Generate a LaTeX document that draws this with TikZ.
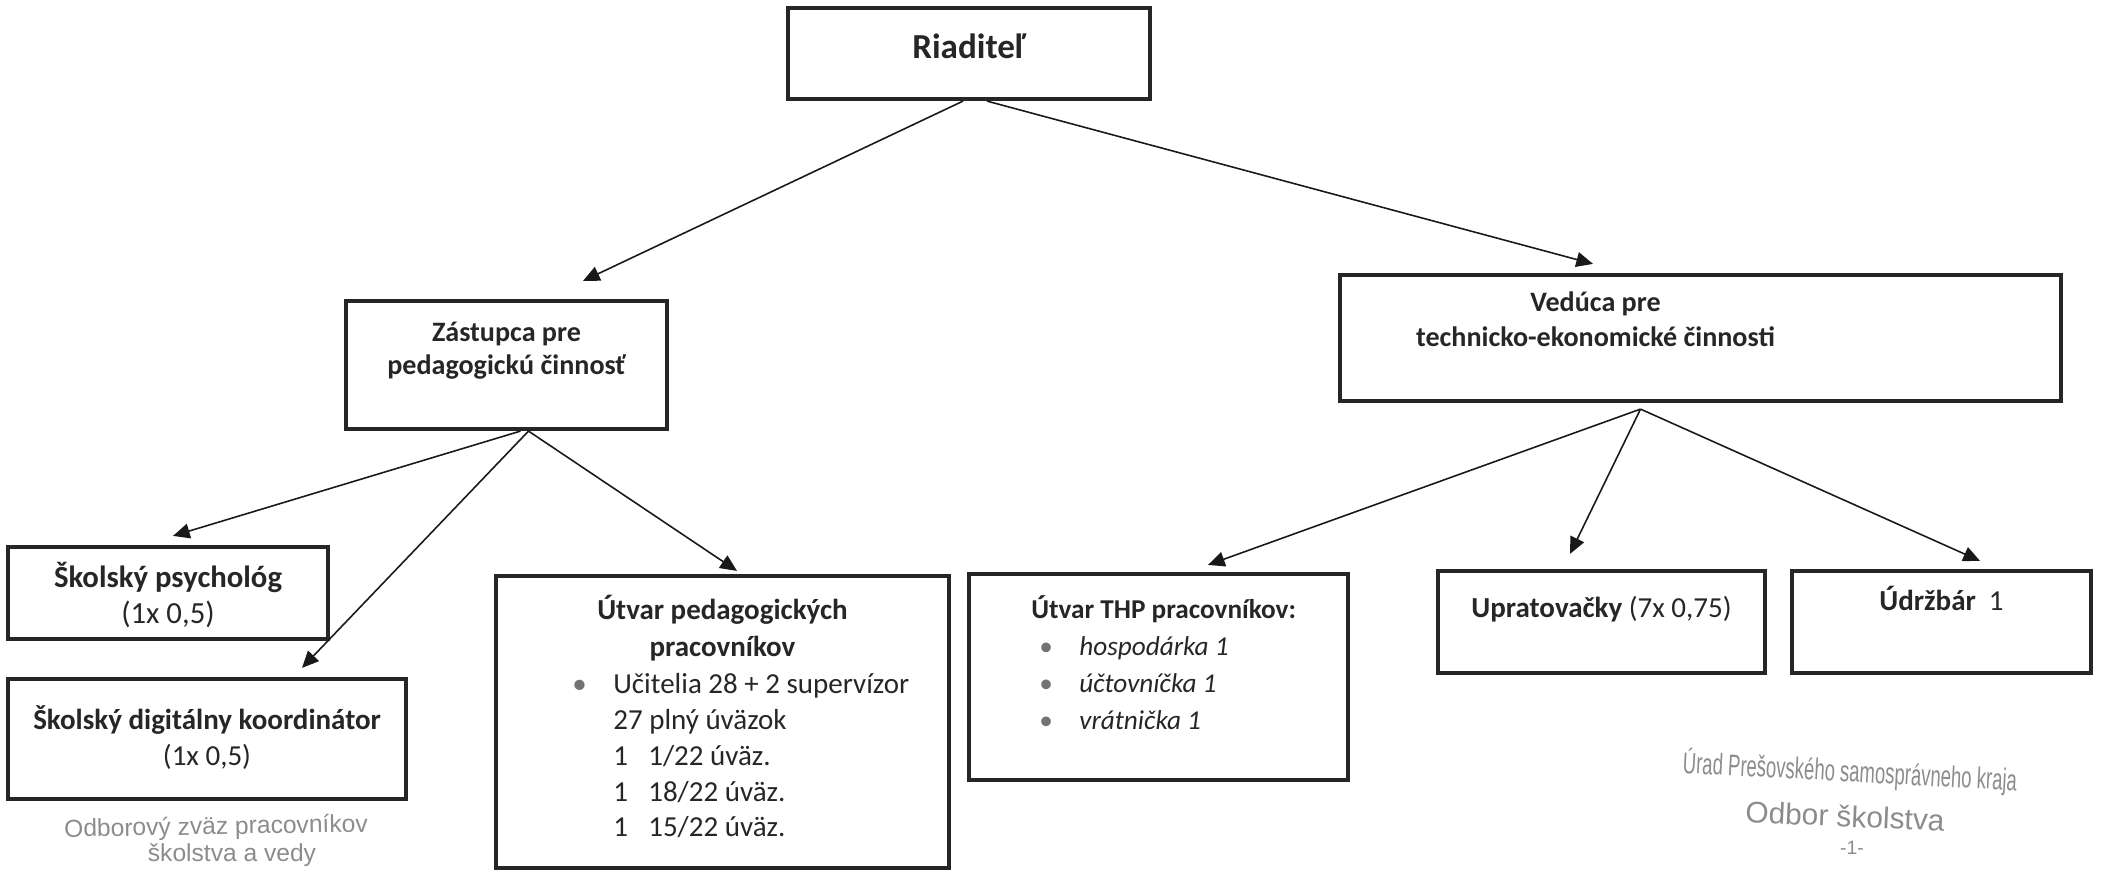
\documentclass[tikz,border=0pt]{standalone}
\usepackage{graphicx}
\usepackage{fontspec}
\setmainfont{Carlito}
\newfontfamily\stampfont{Liberation Sans}
\usetikzlibrary{arrows.meta,positioning}
\tikzset{%
  box/.style={rectangle,draw=black!85,line width=2.4pt,inner sep=0pt},
  ttl/.style={inner sep=0pt,align=center,text=black!85,font=\fontsize{16}{19.5}\selectfont\bfseries},
  lst/.style={inner sep=0pt,align=left,text=black!85,font=\fontsize{16.5}{20.4}\selectfont},
  arr/.style={draw=black!90,line width=0.9pt,-{Triangle[length=9.5pt,width=8.5pt]}},
  stamp/.style={inner sep=0pt,align=center,text=black!45,font=\stampfont}
}
\newcommand{\blt}[1][0.82cm]{\makebox[#1][l]{\textcolor{black!55}{\textbullet}}}

\begin{document}
\begin{tikzpicture}[x=0.02cm,y=-0.02cm]
  \useasboundingbox (0,0) rectangle (2101,871);
  % boxes
  \node[box,minimum width=7.24cm,minimum height=1.82cm] (riad) at (969,53.5) {};
  \node[box,minimum width=6.42cm,minimum height=2.56cm] (zast) at (506.5,365) {};
  \node[box,minimum width=14.42cm,minimum height=2.52cm] (ved) at (1700.5,338) {};
  \node[box,minimum width=6.40cm,minimum height=1.84cm] (psych) at (168,593) {};
  \node[box,minimum width=7.96cm,minimum height=2.40cm] (digi) at (207,739) {};
  \node[box,minimum width=9.06cm,minimum height=5.84cm] (ped) at (722.5,722) {};
  \node[box,minimum width=7.58cm,minimum height=4.12cm] (thp) at (1158.5,677) {};
  \node[box,minimum width=6.54cm,minimum height=2.04cm] (uprat) at (1601.5,622) {};
  \node[box,minimum width=5.98cm,minimum height=2.04cm] (udrz) at (1941.5,622) {};
  % texts
  \node[ttl,font=\fontsize{20}{24}\selectfont\bfseries,below=0.56cm of riad.north] (riadT) {Riaditeľ};
  \node[ttl,font=\fontsize{16}{18.7}\selectfont\bfseries,below=0.46cm of zast.north] (zastT) {Zástupca pre\\pedagogickú činnosť};
  \node[ttl,below=0.38cm of ved.north,xshift=-2.1cm] (vedT) {Vedúca pre\\technicko-ekonomické činnosti};
  \node[ttl,font=\fontsize{17.5}{20.5}\selectfont\bfseries,below=0.34cm of psych.north] (psychT) {Školský psychológ\\{\mdseries(1x 0,5)}};
  \node[ttl,font=\fontsize{16.5}{21}\selectfont\bfseries,below=0.56cm of digi.north] (digiT) {Školský digitálny koordinátor\\{\mdseries(1x 0,5)}};
  \node[ttl,font=\fontsize{16.5}{21}\selectfont\bfseries,below=0.42cm of ped.north] (pedT) {Útvar pedagogických\\pracovníkov};
  \node[lst,anchor=north west] (pedL) at (572,673) {%
    \blt Učitelia 28 + 2 supervízor\\
    \hspace*{0.82cm}27 plný úväzok\\
    \hspace*{0.82cm}\makebox[0.7cm][l]{1}1/22 úväz.\\
    \hspace*{0.82cm}\makebox[0.7cm][l]{1}18/22 úväz.\\
    \hspace*{0.82cm}\makebox[0.7cm][l]{1}15/22 úväz.};
  \node[lst,font=\fontsize{15.5}{21.2}\selectfont,anchor=north west] (thpL) at (1031,595) {%
    \textbf{Útvar THP pracovníkov:}\\
    \hspace*{0.16cm}\blt[0.8cm]\textit{hospodárka 1}\\
    \hspace*{0.16cm}\blt[0.8cm]\textit{účtovníčka 1}\\
    \hspace*{0.16cm}\blt[0.8cm]\textit{vrátnička 1}};
  \node[ttl,font=\fontsize{16.5}{20}\selectfont\bfseries,below=0.54cm of uprat.north] (upratT) {Upratovačky {\mdseries(7x 0,75)}};
  \node[ttl,font=\fontsize{16.5}{20}\selectfont\bfseries,below=0.34cm of udrz.north] (udrzT) {Údržbár\ \ {\mdseries 1}};
  % arrows
  \draw[arr] ([shift={(-6,0)}]riad.south) -- ([shift={(76.5,-18)}]zast.north);
  \draw[arr] ([shift={(18,0)}]riad.south) -- ([shift={(-107.5,-9)}]ved.north);
  \draw[arr] ([shift={(14,0)}]zast.south) -- ([shift={(5,-9)}]psych.north);
  \draw[arr] ([shift={(22,0)}]zast.south) -- ([shift={(95,-9)}]digi.north);
  \draw[arr] ([shift={(22,0)}]zast.south) -- ([shift={(14.5,-3)}]ped.north);
  \foreach \t/\dx/\dy in {thp/49.5/-7,uprat/-31.5/-15,udrz/38.5/-8}
    \draw[arr] ([shift={(-60,6)}]ved.south) -- ([shift={(\dx,\dy)}]\t.north);
  % stamps
  \node[stamp,font=\stampfont\fontsize{14}{14}\selectfont,rotate=1] (odbA) at (216,828) {Odborový zväz pracovníkov};
  \node[stamp,font=\stampfont\fontsize{14}{14}\selectfont] (odbB) at (232,855) {školstva a vedy};
  \node[stamp,font=\stampfont\fontsize{17}{17}\selectfont,rotate=-3] (urad) at (1850,772) {\scalebox{0.62}[1]{Úrad Prešovského samosprávneho kraja}};
  \node[stamp,font=\stampfont\fontsize{17}{17}\selectfont,rotate=-2.5] (odbor) at (1845,816) {Odbor školstva};
  \node[stamp,font=\stampfont\fontsize{11}{11}\selectfont] (pg) at (1852,848) {-1-};
\end{tikzpicture}
\end{document}
